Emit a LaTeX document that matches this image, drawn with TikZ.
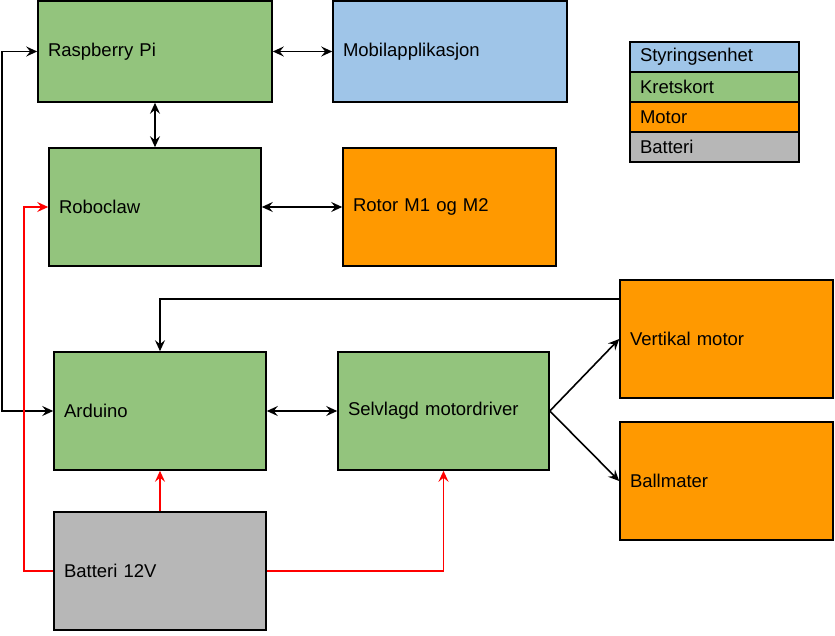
\documentclass[tikz,border=0pt]{standalone}
\usepackage{fontspec}
\setmainfont{Liberation Sans}
\usetikzlibrary{arrows.meta}
\definecolor{styring}{HTML}{9FC5E8}
\definecolor{krets}{HTML}{93C47D}
\definecolor{motor}{HTML}{FF9900}
\definecolor{batteri}{HTML}{B7B7B7}
\definecolor{strom}{HTML}{FF0000}
\tikzset{
  blokk/.style n args={2}{draw=black, line width=1.6pt, rectangle, inner xsep=10pt,
    text width=#1pt-20pt, align=left, minimum height=#2pt,
    font=\fontsize{18.5}{22}\selectfont},
  forklaring/.style={draw=black, line width=1.6pt, rectangle, inner xsep=10pt,
    text width=149pt, align=left, minimum height=30pt,
    font=\fontsize{18.5}{22}\selectfont},
  pil/.style={line width=1.6pt, -{Stealth[length=11pt,width=10pt,inset=4pt]}},
  dobbelpil/.style={line width=1.6pt, {Stealth[length=11pt,width=10pt,inset=4pt]}-{Stealth[length=11pt,width=10pt,inset=4pt]}},
  rodpil/.style={pil, draw=strom}
}
\begin{document}
\begin{tikzpicture}[x=1pt,y=-1pt]
\useasboundingbox (0,0) rectangle (835,636);
% blokker
\node[blokk={234}{101}, fill=krets] (rpi) at (155,51.5) {Raspberry Pi};
\node[blokk={234}{101}, fill=styring] (mobil) at (450,51.5) {Mobilapplikasjon};
\node[blokk={212}{118}, fill=krets] (robo) at (155,207) {Roboclaw};
\node[blokk={213}{118}, fill=motor] (rotor) at (449.5,207) {Rotor M1 og M2};
\node[blokk={213}{118}, fill=motor] (vert) at (726.5,339) {Vertikal motor};
\node[blokk={213}{118}, fill=motor] (ball) at (726.5,481) {Ballmater};
\node[blokk={212}{118}, fill=krets] (ard) at (160,411) {Arduino};
\node[blokk={211}{118}, fill=krets] (drv) at (443.5,411) {Selvlagd motordriver};
\node[blokk={212}{118}, fill=batteri] (bat) at (160,571) {Batteri 12V};
% forklaring
\node[forklaring, fill=styring] (f1) at (714.5,57) {Styringsenhet};
\node[forklaring, fill=krets] (f2) at (714.5,87) {Kretskort};
\node[forklaring, fill=motor] (f3) at (714.5,117) {Motor};
\node[forklaring, fill=batteri] (f4) at (714.5,147) {Batteri};
% signaler
\draw[dobbelpil] (rpi) -- (mobil);
\draw[dobbelpil] (rpi) -- (robo);
\draw[dobbelpil] (robo) -- (rotor);
\draw[dobbelpil] (ard) -- (drv);
\coordinate (venstre) at (2,230);
\draw[dobbelpil] (rpi.west) -| (venstre) |- (ard.west);
\draw[pil] ([yshift=-20pt]vert.north west) -| (ard.north);
\draw[pil] (drv.east) -- (vert.west);
\draw[pil] (drv.east) -- (ball.west);
% strom
\coordinate (rodvenstre) at (24,400);
\draw[rodpil] (bat.west) -| (rodvenstre) |- (robo.west);
\draw[rodpil] (bat) -- (ard);
\draw[rodpil] (bat.east) -| (drv.south);
\end{tikzpicture}
\end{document}
